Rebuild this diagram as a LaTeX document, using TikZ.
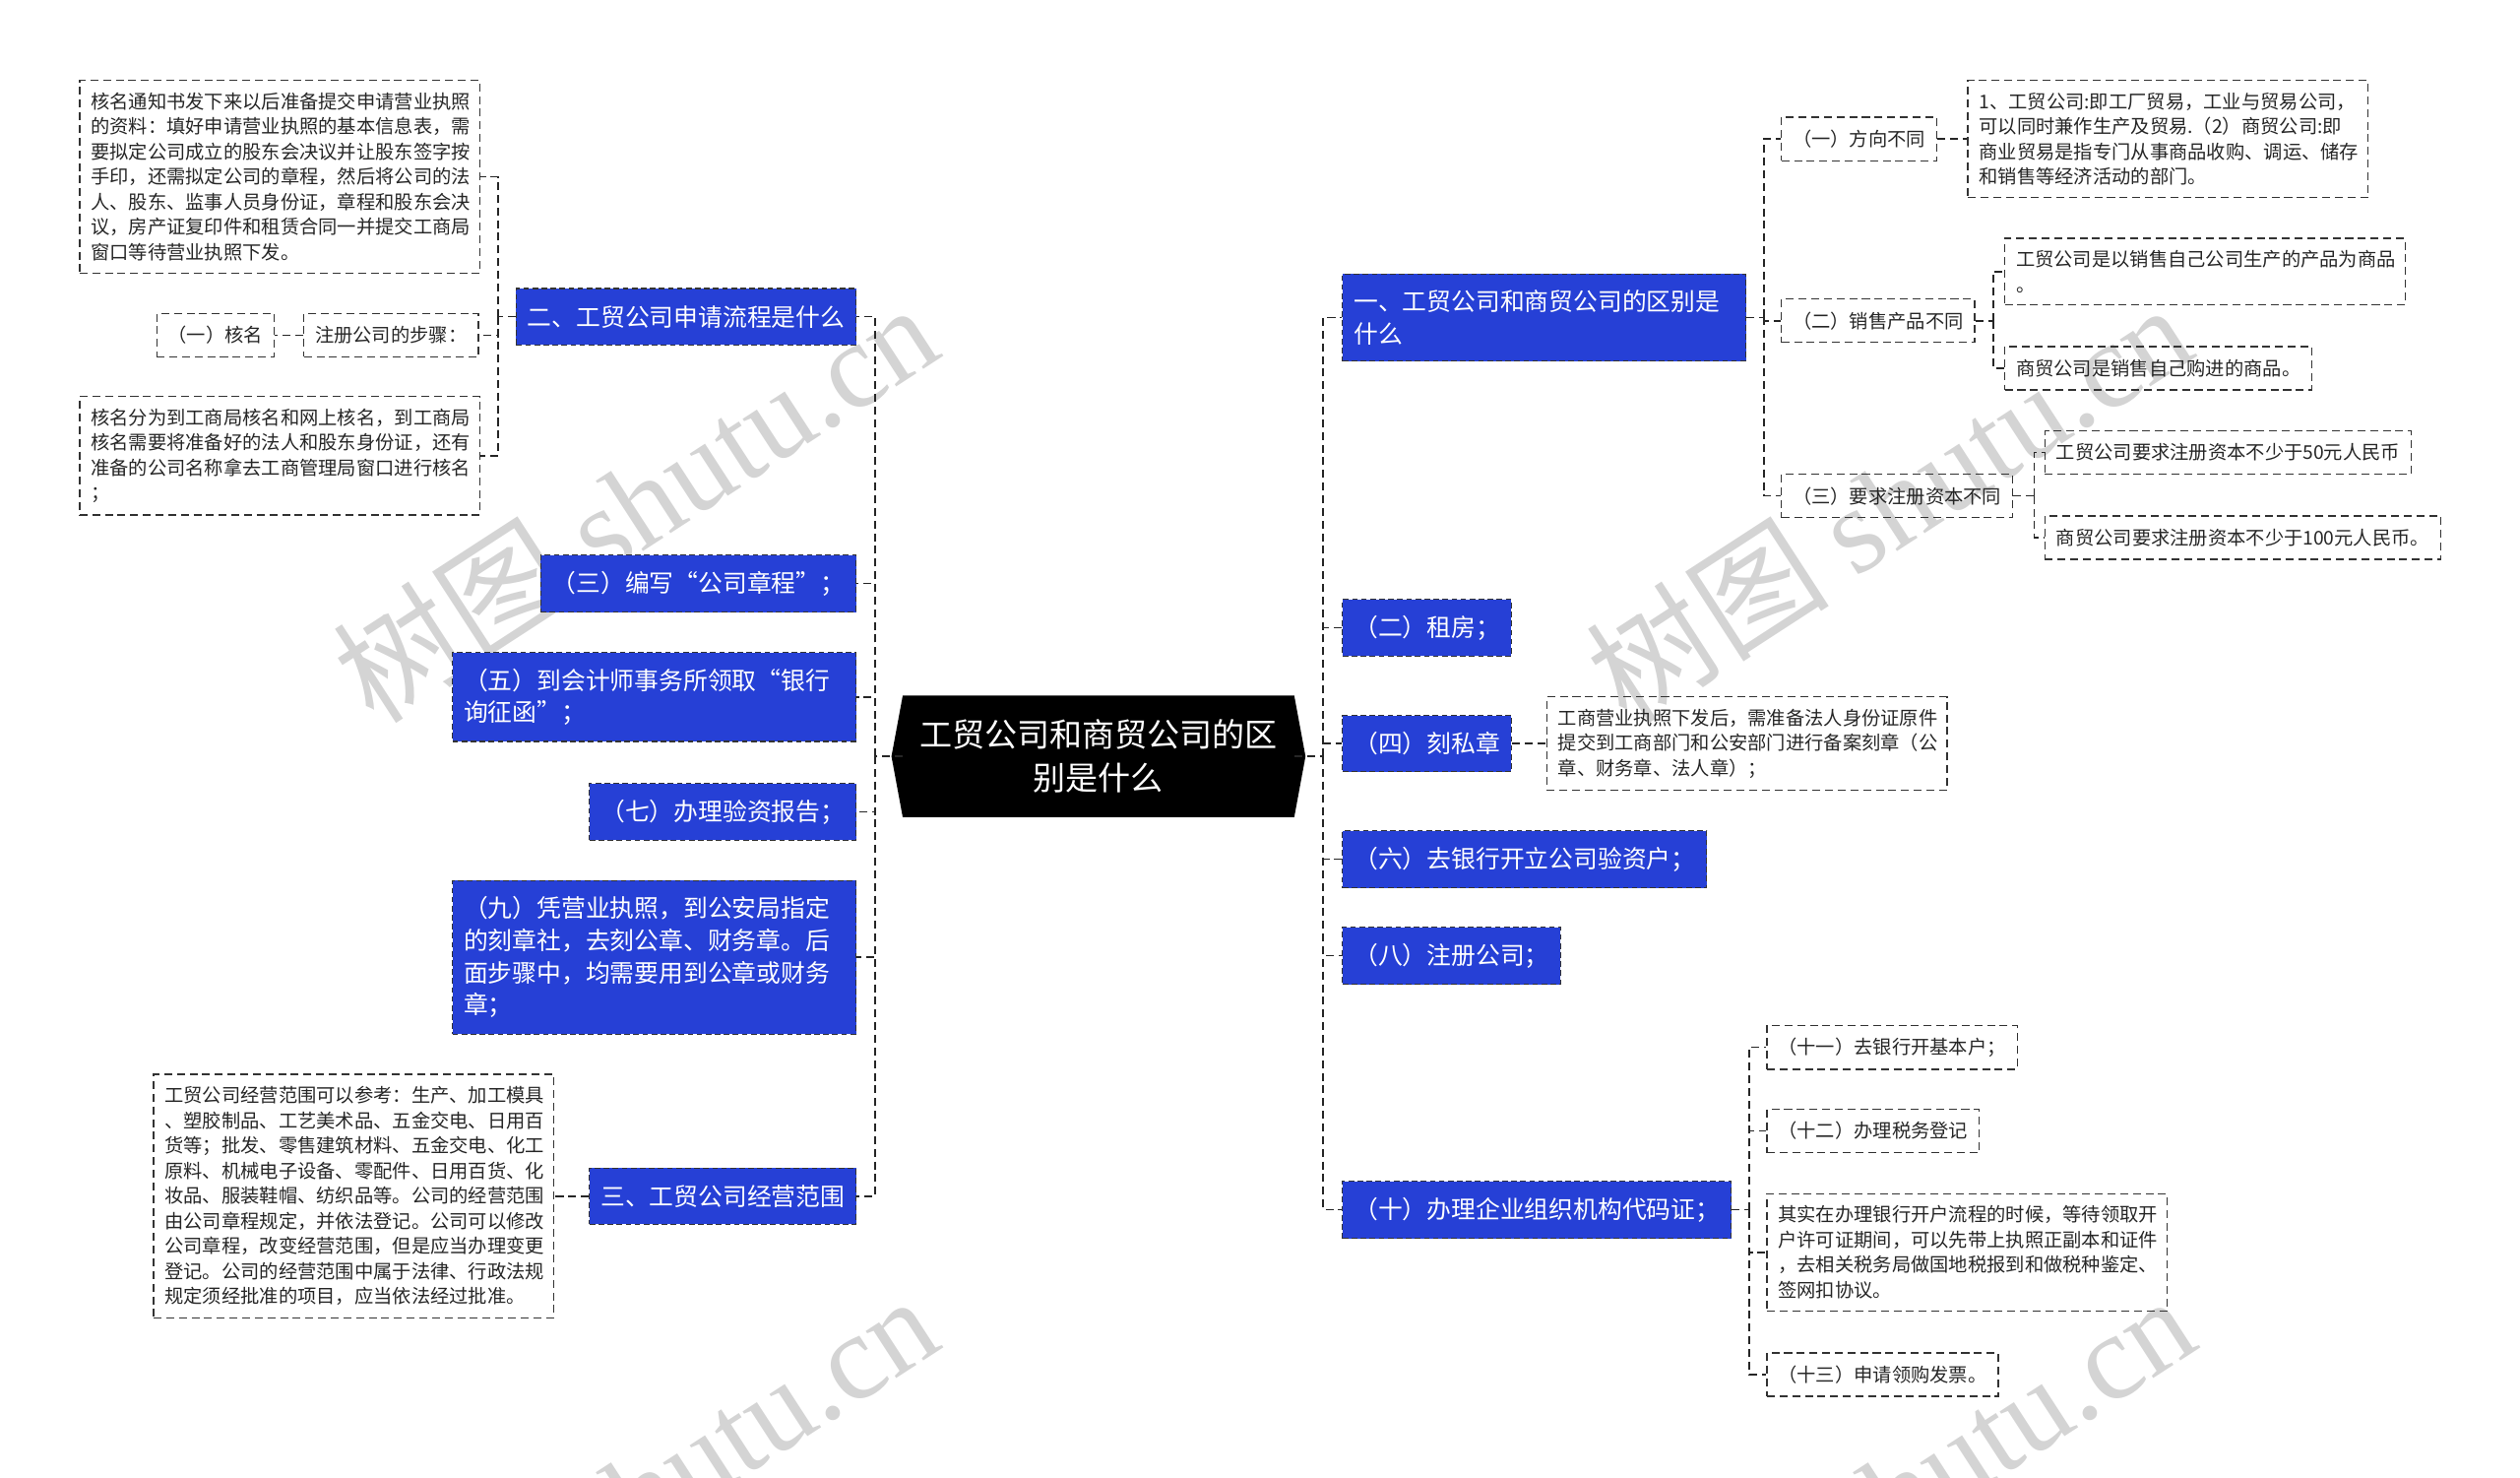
\documentclass[tikz,border=0pt]{standalone}
\usepackage{fontspec}
\setmainfont{Noto Sans CJK SC}
\newfontfamily\wmfont{Liberation Serif}
\usetikzlibrary{backgrounds}
\definecolor{topicblue}{RGB}{38,64,214}
\definecolor{wmgray}{RGB}{212,212,212}

\begin{document}
\begin{tikzpicture}[x=0.025cm, y=-0.025cm,
            main/.style={text=white, align=center, minimum width=6.075cm,
                minimum height=1.875cm, font=\fontsize{14.4pt}{19.2pt}\selectfont},
            topic/.style={fill=topicblue, draw=black!80, dash pattern=on 2.5pt off 1.5pt,
                line width=0.5pt, text=white, align=left, inner xsep=0.175cm,
                inner ysep=0.25cm, minimum height=0.875cm,
                font=\fontsize{10.8pt}{14.2pt}\selectfont},
            note/.style={draw=black!80, dash pattern=on 3.5pt off 2.1pt, line width=0.6pt,
                text=black!85, align=left, inner xsep=0.175cm, inner ysep=0.19cm,
                minimum height=0.675cm, font=\fontsize{8.4pt}{11.1pt}\selectfont},
            link/.style={draw=black!85, line width=0.7pt, dash pattern=on 3.5pt off 2.1pt}]
\useasboundingbox (0,0) rectangle (1568,919);

% watermark
\begin{scope}
\clip (0,0) rectangle (1568,919);
\foreach \wx/\wy in {395/312, 1175/312, 395/929, 1177/929}
    \node[rotate=33, text=wmgray, font=\fontsize{54pt}{54pt}\selectfont]
        at (\wx,\wy) {树图 {\wmfont shutu.cn}};
\end{scope}

% centre
\node[main] (root) at (683.5,470.5) {工贸公司和商贸公司的区\\别是什么};
\begin{scope}[on background layer]
\fill[black] (root.north west) -- ([xshift=-0.175cm]root.west) -- (root.south west)
    -- (root.south east) -- ([xshift=0.175cm]root.east) -- (root.north east) -- cycle;
\end{scope}

% left side
\node[topic, anchor=east] (l1) at (533,197) {二、工贸公司申请流程是什么};
\node[topic, anchor=east] (l3) at (533,363) {（三）编写“公司章程”；};
\node[topic, anchor=east, text width=5.925cm] (l5) at (533,433.5)
    {（五）到会计师事务所领取“银行\\询征函”；};
\node[topic, anchor=east] (l7) at (533,505) {（七）办理验资报告；};
\node[topic, anchor=east, text width=5.925cm] (l9) at (533,595.5)
    {（九）凭营业执照，到公安局指定\\的刻章社，去刻公章、财务章。后\\面步骤中，均需要用到公章或财务\\章；};
\node[topic, anchor=east] (l11) at (533,744) {三、工贸公司经营范围};

\node[note, anchor=east, text width=5.875cm] (l1a) at (299,110)
    {核名通知书发下来以后准备提交申请营业执照\\的资料：填好申请营业执照的基本信息表，需\\要拟定公司成立的股东会决议并让股东签字按\\手印，还需拟定公司的章程，然后将公司的法\\人、股东、监事人员身份证，章程和股东会决\\议，房产证复印件和租赁合同一并提交工商局\\窗口等待营业执照下发。};
\node[note, anchor=east] (l1b) at (298,208.5) {注册公司的步骤：};
\node[note, anchor=east] (l1b1) at (171,208.5) {（一）核名};
\node[note, anchor=east, text width=5.875cm] (l1c) at (299,283.5)
    {核名分为到工商局核名和网上核名，到工商局\\核名需要将准备好的法人和股东身份证，还有\\准备的公司名称拿去工商管理局窗口进行核名\\；};
\node[note, anchor=east, text width=5.875cm] (l11a) at (345,744)
    {工贸公司经营范围可以参考：生产、加工模具\\、塑胶制品、工艺美术品、五金交电、日用百\\货等；批发、零售建筑材料、五金交电、化工\\原料、机械电子设备、零配件、日用百货、化\\妆品、服装鞋帽、纺织品等。公司的经营范围\\由公司章程规定，并依法登记。公司可以修改\\公司章程，改变经营范围，但是应当办理变更\\登记。公司的经营范围中属于法律、行政法规\\规定须经批准的项目，应当依法经过批准。};

% right side
\node[topic, anchor=west, text width=5.925cm] (r1) at (835,197.5)
    {一、工贸公司和商贸公司的区别是\\什么};
\node[topic, anchor=west] (r2) at (835,390.5) {（二）租房；};
\node[topic, anchor=west] (r4) at (835,462.5) {（四）刻私章};
\node[topic, anchor=west] (r6) at (835,534.5) {（六）去银行开立公司验资户；};
\node[topic, anchor=west] (r8) at (835,594.5) {（八）注册公司；};
\node[topic, anchor=west] (r10) at (835,752.5) {（十）办理企业组织机构代码证；};

\node[note, anchor=west] (r1a) at (1108,86.5) {（一）方向不同};
\node[note, anchor=west, text width=5.875cm] (r1a1) at (1224,86.5)
    {1、工贸公司:即工厂贸易，工业与贸易公司，\\可以同时兼作生产及贸易.（2）商贸公司:即\\商业贸易是指专门从事商品收购、调运、储存\\和销售等经济活动的部门。};
\node[note, anchor=west] (r1b) at (1108,199.5) {（二）销售产品不同};
\node[note, anchor=west, text width=5.875cm] (r1b1) at (1247,169)
    {工贸公司是以销售自己公司生产的产品为商品\\。};
\node[note, anchor=west] (r1b2) at (1247,229) {商贸公司是销售自己购进的商品。};
\node[note, anchor=west] (r1c) at (1108,308.5) {（三）要求注册资本不同};
\node[note, anchor=west] (r1c1) at (1272,281.5) {工贸公司要求注册资本不少于50元人民币};
\node[note, anchor=west] (r1c2) at (1272,334.5) {商贸公司要求注册资本不少于100元人民币。};
\node[note, anchor=west, text width=5.875cm] (r4a) at (962,462.5)
    {工商营业执照下发后，需准备法人身份证原件\\提交到工商部门和公安部门进行备案刻章（公\\章、财务章、法人章）；};
\node[note, anchor=west] (r10a) at (1099,651.5) {（十一）去银行开基本户；};
\node[note, anchor=west] (r10b) at (1099,703.5) {（十二）办理税务登记};
\node[note, anchor=west, text width=5.875cm] (r10c) at (1099,779)
    {其实在办理银行开户流程的时候，等待领取开\\户许可证期间，可以先带上执照正副本和证件\\，去相关税务局做国地税报到和做税种鉴定、\\签网扣协议。};
\node[note, anchor=west] (r10d) at (1099,855) {（十三）申请领购发票。};

% connectors
\draw[link] (root.west) -- ++(-17,0) coordinate (ls);
\foreach \n in {l1,l3,l5,l7,l9,l11}
    \draw[link] (ls) |- (\n.east);
\draw[link] (root.east) -- ++(18,0) coordinate (rs);
\foreach \n in {r1,r2,r4,r6,r8,r10}
    \draw[link] (rs) |- (\n.west);

\draw[link] (l1.west) -- ++(-11,0) coordinate (l1s);
\foreach \n in {l1a,l1b,l1c}
    \draw[link] (l1s) |- (\n.east);
\draw[link] (l1b.west) -- (l1b1.east);
\draw[link] (l11.west) -- (l11a.east);

\draw[link] (r1.east) -- ++(11,0) coordinate (r1s);
\foreach \n in {r1a,r1b,r1c}
    \draw[link] (r1s) |- (\n.west);
\draw[link] (r1a.east) -- (r1a1.west);
\draw[link] (r1b.east) -- ++(11,0) coordinate (r1bs);
\foreach \n in {r1b1,r1b2}
    \draw[link] (r1bs) |- (\n.west);
\draw[link] (r1c.east) -- ++(13,0) coordinate (r1cs);
\foreach \n in {r1c1,r1c2}
    \draw[link] (r1cs) |- (\n.west);
\draw[link] (r4.east) -- (r4a.west);
\draw[link] (r10.east) -- ++(11,0) coordinate (r10s);
\foreach \n in {r10a,r10b,r10c,r10d}
    \draw[link] (r10s) |- (\n.west);

\end{tikzpicture}
\end{document}
